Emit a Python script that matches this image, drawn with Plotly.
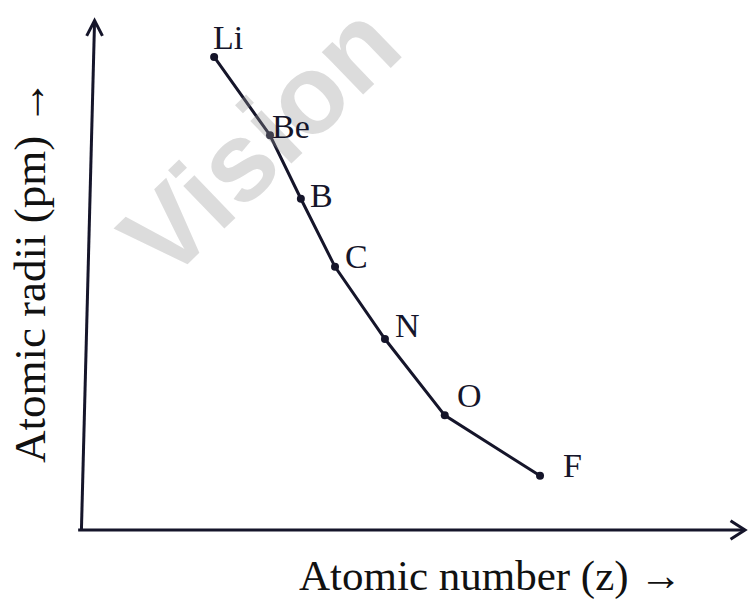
import plotly.graph_objects as go

# values (arbitrary units, axes have no ticks)
elements = ["Li", "Be", "B", "C", "N", "O", "F"]
atomic_pos = [19.2, 27.7, 32.4, 37.6, 45.2, 54.3, 68.8]
radii = [92.4, 77.1, 64.7, 51.4, 37.3, 22.4, 10.6]

x_title = "Atomic number (z) \u2192"
y_title = "Atomic radii (pm) \u2192"
watermark = "Vision"

ink = "#15152a"
serif = "Liberation Serif, Times New Roman, serif"

# pixel nudges for the element labels (style only)
label_shift = {
    "Li": (14, 19), "Be": (21, 9), "B": (21, 3), "C": (21, 10),
    "N": (23, 14), "O": (25, 20), "F": (32, 10),
}

fig = go.Figure()
fig.add_trace(go.Scatter(
    x=atomic_pos,
    y=radii,
    mode="lines+markers",
    line=dict(color=ink, width=3),
    marker=dict(color=ink, size=8),
    hoverinfo="skip",
))

annotations = [
    # translucent watermark so the curve still shows through it
    dict(x=0.262, y=0.76, xref="paper", yref="paper", text="<b>" + watermark + "</b>",
         showarrow=False, textangle=-44, xanchor="center", yanchor="middle",
         font=dict(family="Liberation Sans, Arial, sans-serif", size=112,
                   color="rgba(150,150,150,0.33)")),
]
for el, xv, yv in zip(elements, atomic_pos, radii):
    dx, dy = label_shift[el]
    annotations.append(dict(
        x=xv, y=yv, xref="x", yref="y", text=el, showarrow=False,
        xshift=dx, yshift=dy, font=dict(family=serif, size=34, color=ink),
    ))

annotations += [
    dict(x=0.612, y=-0.09, xref="paper", yref="paper", text=x_title,
         showarrow=False, xanchor="center", yanchor="middle",
         font=dict(family=serif, size=43, color="#111")),
    dict(x=-0.088, y=0.506, xref="paper", yref="paper", text=y_title,
         showarrow=False, textangle=-90, xanchor="center", yanchor="middle",
         font=dict(family=serif, size=45, color="#111")),
]

# axis lines with open arrowheads
shapes = [
    dict(type="line", xref="paper", yref="paper", x0=-0.015, y0=0, x1=1, y1=0,
         line=dict(color=ink, width=3)),
    dict(type="line", xref="paper", yref="paper", x0=-0.01, y0=0, x1=0.01, y1=0.995,
         line=dict(color=ink, width=3)),
    dict(type="path", xref="paper", yref="paper",
         path="M 0.978,0.018 L 1,0 L 0.978,-0.018",
         line=dict(color=ink, width=3)),
    dict(type="path", xref="paper", yref="paper",
         path="M -0.002,0.965 L 0.01,0.995 L 0.022,0.965",
         line=dict(color=ink, width=3)),
]

fig.update_layout(
    width=748,
    height=600,
    margin=dict(l=88, r=3, t=18, b=70),
    paper_bgcolor="white",
    plot_bgcolor="white",
    showlegend=False,
    xaxis=dict(range=[0, 100], visible=False, fixedrange=True),
    yaxis=dict(range=[0, 100], visible=False, fixedrange=True),
    annotations=annotations,
    shapes=shapes,
)

# drop the default body margin so the 748x600 figure fills the window exactly
fig.write_html(
    "out.html",
    config={"displayModeBar": False},
    post_script="document.body.style.margin='0';",
)
